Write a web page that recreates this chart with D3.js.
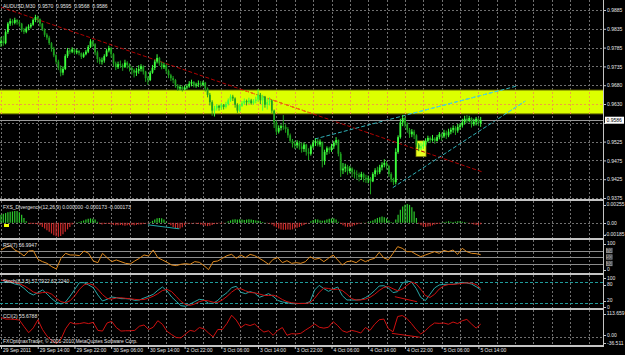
<!DOCTYPE html>
<html><head><meta charset="utf-8">
<script src="https://cdn.jsdelivr.net/npm/d3@7"></script>
<style>
html,body{margin:0;padding:0;background:#000;}
svg{display:block;}
text{font-family:"Liberation Sans",Arial,sans-serif;font-size:5px;fill:#e6e6e6;white-space:pre;}
</style></head><body>
<svg id="c" width="625" height="355"></svg>
<script>
// ---------- DATA (prices in 1/10000) ----------
const symbolTitle = "AUDUSD,M30  0.9570  0.9595  0.9568  0.9586";
const closes = [
9800,9795,9825,9848,9855,9850,9858,9852,9848,9830,
9826,9835,9840,9845,9858,9866,9860,9848,9832,9818,
9810,9795,9780,9762,9745,9728,9715,9725,9760,9775,
9772,9778,9770,9774,9768,9758,9765,9772,9785,9800,
9792,9770,9752,9745,9748,9760,9775,9782,9765,9740,
9730,9738,9735,9730,9742,9736,9728,9722,9715,9720,
9725,9732,9718,9700,9695,9715,9728,9745,9755,9740,
9730,9735,9720,9708,9700,9695,9680,9672,9676,9670,
9675,9678,9685,9690,9680,9683,9686,9682,9688,9672,
9655,9635,9612,9618,9625,9620,9628,9622,9630,9640,
9650,9645,9628,9612,9625,9632,9638,9635,9640,9632,
9638,9642,9655,9640,9650,9628,9635,9640,9612,9580,
9555,9565,9570,9568,9562,9545,9530,9522,9518,9525,
9515,9508,9520,9500,9495,9515,9525,9530,9520,9528,
9475,9500,9510,9505,9515,9525,9532,9495,9450,9455,
9460,9448,9455,9445,9440,9438,9432,9440,9430,9425,
9428,9420,9440,9450,9445,9458,9465,9470,9462,9440,
9425,9418,9500,9540,9580,9592,9575,9560,9548,9555,
9545,9520,9510,9515,9520,9530,9538,9532,9536,9530,
9540,9548,9542,9552,9545,9555,9560,9565,9558,9568,
9572,9580,9590,9585,9592,9575,9582,9590,9578,9586];
const highs = [
9812,9815,9830,9852,9862,9860,9864,9860,9858,9850,
9836,9840,9846,9850,9862,9872,9870,9862,9850,9835,
9822,9815,9798,9785,9765,9750,9735,9732,9765,9782,
9780,9784,9780,9779,9776,9770,9770,9777,9790,9806,
9804,9795,9775,9757,9756,9765,9780,9788,9785,9768,
9745,9745,9748,9740,9750,9746,9740,9732,9726,9728,
9735,9738,9735,9720,9705,9720,9736,9750,9765,9758,
9745,9742,9738,9724,9712,9706,9698,9684,9682,9680,
9680,9684,9692,9696,9692,9688,9694,9692,9693,9690,
9675,9660,9640,9625,9630,9628,9632,9630,9636,9645,
9656,9655,9648,9632,9630,9638,9645,9642,9647,9644,
9643,9650,9670,9660,9655,9652,9645,9648,9642,9615,
9585,9572,9575,9600,9575,9567,9550,9535,9530,9532,
9530,9525,9526,9522,9510,9520,9532,9537,9535,9534,
9525,9506,9515,9514,9522,9530,9540,9534,9500,9470,
9468,9465,9462,9458,9452,9450,9444,9446,9444,9438,
9436,9432,9445,9456,9460,9465,9472,9480,9475,9465,
9445,9430,9510,9545,9590,9600,9596,9580,9565,9562,
9560,9548,9524,9525,9530,9537,9544,9542,9546,9540,
9546,9554,9552,9560,9558,9563,9566,9572,9570,9576,
9578,9590,9598,9600,9598,9594,9590,9595,9592,9595];
const lows = [
9785,9788,9792,9820,9842,9843,9846,9845,9840,9825,
9820,9822,9830,9835,9842,9852,9850,9840,9828,9812,
9804,9790,9772,9757,9738,9722,9705,9708,9722,9755,
9765,9768,9764,9765,9762,9752,9755,9762,9768,9782,
9785,9762,9742,9738,9737,9742,9758,9770,9756,9732,
9722,9725,9728,9720,9728,9726,9718,9710,9702,9706,
9712,9718,9710,9690,9682,9692,9712,9722,9740,9734,
9724,9725,9712,9700,9692,9686,9674,9666,9666,9664,
9667,9670,9674,9678,9675,9674,9676,9675,9678,9664,
9648,9626,9598,9596,9612,9612,9614,9615,9618,9626,
9636,9638,9620,9606,9608,9622,9628,9626,9630,9628,
9628,9632,9636,9630,9612,9620,9615,9626,9605,9565,
9546,9550,9558,9560,9552,9538,9525,9512,9508,9510,
9506,9498,9500,9490,9478,9490,9510,9516,9515,9514,
9458,9465,9492,9495,9500,9508,9518,9488,9432,9440,
9445,9438,9442,9432,9428,9425,9420,9424,9418,9416,
9415,9385,9418,9432,9438,9440,9450,9458,9452,9432,
9418,9410,9412,9495,9536,9570,9566,9552,9538,9540,
9535,9512,9502,9505,9508,9515,9526,9524,9528,9522,
9528,9534,9530,9538,9535,9540,9548,9552,9546,9552,
9560,9566,9574,9578,9580,9566,9570,9572,9570,9568];
const firstOpen = 9795;
const lastPrice = 0.9586;

// FXS_Divergence histogram (units of 0.0001), one per bar
const divergence = [
10,11,12,13,13.5,14,14.5,14.5,13,10,6,2,
-1,-1.5,-1,-1.5,-2,
-3,-5,-7,-9,-11,-13,-15,-16.5,-17,-16,-14,-11,-8,-5,-2,
-0.5,0.5,
1,2,3,4,5,5.5,5,4,1.5,
-1,-2,-1.5,-1,-1.5,-2,-2.5,-3,-3,-2.5,-3,-3.5,-3,-3,-2.5,-3,-2.5,-2,-2,-1.5,-1,-0.5,
1,2.5,4,5.5,6,5.5,4,1.5,
-1,-3,-5,-6.5,-7.3,-7,-5.5,-3,-1,
-0.5,-1,-0.5,-1,-1.5,-2,
-3,-3.5,-4,-3.5,-2.5,-1.5,
-1,-0.5,-1,-0.5,0.5,
2,3,4,4.5,4,4.5,4,3.5,4,4.5,4,3.5,3,2.5,2,1,
0.5,-0.5,-1,
-2,-4,-5.5,-7,-8,-8.5,-8.5,-8,-8.5,-8,-7,-6,-5,-3.5,-2.5,-1.5,-0.5,
2,3.5,4.5,4,3,2.5,3,4,5,5.5,5.5,4,1.5,
-1.5,-3,-4.5,-5,-4.5,-4,-3,-2,-1,
-0.5,0.5,-0.5,
1,2,3,4.5,6,7,7.7,7,5.5,3,1,
0.5,
4,10,16,20,22,23,22,19,14,
6,
-1,-3,-4.5,-5,-4.5,-4,-3,-2,-1.5,-1,
0.5,1,1.5,2,1.5,1,1.5,2,2,1.5,1,0.5,-0.5,-1,
-2,-2.5,-3,-1.7];

// RSI(7), Stoch main/signal, CCI: evenly sampled across the bars
const rsi = [71.6,79.8,84.9,71.6,64.4,53.1,68.5,69.5,42.9,35.7,30.5,20.3,13.1,46,61.3,56.2,56.2,54.1,68.5,61.3,
37.7,32.6,61.3,48,35.7,40.8,35.7,30.5,28.5,37.7,46,56.2,53.1,71.6,48,40.8,33.6,25.4,23.4,27.5,
29.5,27.5,35.7,33.6,23.4,11.1,35.7,37.7,46,54.1,58.2,46,56.2,48,58.2,54.1,46,37.7,27.5,42.9,
48,32.6,38.7,30.5,32.6,30.5,35.7,51,42.9,46,35.7,46,56.2,40.8,25.4,35.7,37.7,32.6,42.9,35.7,
41.8,46,64.4,47,41.8,61.3,81.8,76.7,66.4,66.4,58.2,51,56.2,61.3,66.4,61.3,70.5,66.4,71.6,58.2,
76.7,66.4,61.3,60.3,57.0];
const stochMain = [86.7,82.8,80,75,72.2,62.5,50,43.2,50,57.7,46,32.6,22,17.1,23,40.3,59.6,79,79,72.2,
64.5,43.2,25.8,30.6,37.4,35.5,32.6,32.6,31.6,27.7,28.7,34.5,39.3,45.1,56.7,66.4,54.8,37.4,24.8,12.3,
10.4,17.1,23.9,30.6,28.7,19,19,27.7,40.3,50,64.5,68.3,51,47.1,52.9,49,36.4,41.3,47.1,39.3,
27.7,23,21,18.1,18.1,19,19,23.9,57.7,71.2,61.6,53.8,60.6,66.4,41.3,28.7,28.7,28.7,29.7,35.5,
44.2,55.8,69.3,70.2,63.5,50,52.9,77,83.8,80.9,62.5,36.4,26.8,45.1,63.5,72.2,74.1,74.1,74.1,77,
80,78,75,67.4,57.8];
const stochSignal = [86,85,83.2,79.3,75.7,69.9,61.6,51.9,47.7,50.3,51.3,45.4,33.5,23.9,20.7,26.8,41,59.6,72.5,76.7,
71.9,60,44.5,33.2,31.3,34.5,35.2,33.6,32.3,30.6,29.3,30.3,34.2,39.6,47,56.1,59.3,52.9,39,24.8,
15.8,13.3,17.1,23.9,27.7,26.1,22.2,21.9,29,39.3,51.6,60.9,61.3,55.5,50.3,49.7,46.1,42.2,41.6,42.6,
38,30,23.9,20.7,19.1,18.4,18.7,20.6,33.5,50.9,63.5,62.2,58.7,60.3,56.1,45.5,32.9,28.7,29,31.3,
36.5,45.2,56.4,65.1,67.7,61.2,55.5,60,71.2,80.6,75.7,59.9,41.9,36.1,45.1,60.3,69.9,73.5,74.1,75.1,
77,78.3,77.7,73.5,62.2];
const cci = [85,78,78,76.5,73.6,45,18,39,75,32,2,-16.5,-29.4,-11,35,63.6,56.5,58,62,58,
63.6,28,25,60.7,68,40.7,25,26.4,26.4,28,46.4,52,32,42,70.8,55,23.6,9.3,-3.6,-5,
12,28,23.6,40.7,35,16.4,-0.8,32,32,59,95,73.6,40.7,55,49.3,56.5,36.4,20.7,26.4,6.4,
28,40.7,6.4,13.6,12,15,29.3,42,56.5,42,38,42,66.4,49.3,26.4,19.3,28,23.6,16.4,40.7,
28,55,75,78,35,22,89.3,93.6,80.8,58,32,12,26.4,46.4,60.7,59,60.7,55,65,58,
70.8,76.5,56.5,38,55.7];

// axis labels ('' = grid line whose label is hidden behind the price tag)
const priceTicks = [0.9885,0.9834,0.9783,0.9732,0.9681,0.9630,0.9579,0.9528,0.9477,0.9426,0.9375];
const priceTickLabels = ['0.9885','0.9835','0.9785','0.9735','0.9680','0.9630','','0.9525','0.9475','0.9425','0.9375'];
const timeTickBars = [0,16,32,48,64,80,96,112,128,144,160,176,192,208];
const timeLabels = ['29 Sep 2011','29 Sep 14:00','29 Sep 22:00','30 Sep 06:00','30 Sep 14:00','2 Oct 22:00','3 Oct 06:00',
  '3 Oct 14:00','3 Oct 22:00','4 Oct 06:00','4 Oct 14:00','4 Oct 22:00','5 Oct 06:00','5 Oct 14:00'];

// drawn objects (bar index, value)
const redTrendBars = [0,209.6], redTrendPrices = [0.9893,0.9446];
const cyanUpperBars = [136.7,224.9], cyanUpperPrices = [0.9535,0.9679];
const cyanLowerBars = [170.7,228.4], cyanLowerPrices = [0.9403,0.9638];
const zoneHigh = 0.9668, zoneLow = 0.9603;
const boxBars = [180.8,185.2], boxPrices = [0.9487,0.9530];
const divLineBars = [64,77.7], divLineVals = [-2.4,-7.3];
const stoLineBars = [171.6,181.2], stoLineVals = [38.3,23.8];
const cciLineBars = [170.3,182.5], cciLineVals = [15,-2.2];
const rsiLevels = [70,50,30];
const stochLevels = [80,20];

// ---------- DRAW ----------
const svg = d3.select('#c');
const W = 625, H = 355, R = 603;
svg.append('rect').attr('width',W).attr('height',H).attr('fill','#000');

const x = d3.scaleLinear().domain([0,208]).range([1,478.4]);
const P = v => v/10000;
const panels = {
  main:{top:0,bottom:199}, div:{top:201,bottom:238}, rsi:{top:240,bottom:273},
  sto:{top:275,bottom:308}, cci:{top:310,bottom:345}
};
const yP = d3.scaleLinear().domain([0.9375,0.9885]).range([198,10]);
const yD = d3.scaleLinear().domain([-18.5,25.5]).range([238,202]);
const yR = d3.scaleLinear().domain([0,100]).range([273.25,240.75]);
const yS = d3.scaleLinear().domain([0,100]).range([309.9,275.4]);
const yC = d3.scaleLinear().domain([-36.511,113.659]).range([345,311]);
const sx = n => d3.scaleLinear().domain([0,n-1]).range([x(0),x(209)]);

const defs = svg.append('defs');
Object.entries(panels).forEach(([k,p])=>{
  defs.append('clipPath').attr('id','clip-'+k).append('rect')
    .attr('x',0).attr('y',p.top).attr('width',R).attr('height',p.bottom-p.top);
});
defs.append('clipPath').attr('id','clip-zone').append('rect')
  .attr('x',0).attr('y',yP(zoneHigh)).attr('width',R).attr('height',yP(zoneLow)-yP(zoneHigh));

const gridBars = d3.range(0,400,8).filter(b=>x(b)<R-1);
const gridCol = '#707070';

function vgrid(g,p,col){
  g.selectAll(null).data(gridBars).join('line')
    .attr('x1',d=>Math.round(x(d))+0.5).attr('x2',d=>Math.round(x(d))+0.5)
    .attr('y1',p.top).attr('y2',p.bottom)
    .attr('stroke',col).attr('stroke-dasharray','2,2');
}
function tline(g,bars,vals,ys,col,dash){
  g.append('line').attr('x1',x(bars[0])).attr('y1',ys(vals[0])).attr('x2',x(bars[1])).attr('y2',ys(vals[1]))
   .attr('stroke',col).attr('stroke-width',1).attr('stroke-dasharray',dash||null);
}

// main panel
const gm = svg.append('g').attr('clip-path','url(#clip-main)');
vgrid(gm,panels.main,gridCol);
gm.selectAll(null).data(priceTicks).join('line')
  .attr('x1',0).attr('x2',R).attr('y1',d=>Math.round(yP(d))+0.5).attr('y2',d=>Math.round(yP(d))+0.5)
  .attr('stroke',gridCol).attr('stroke-dasharray','2,2');
// zone
gm.append('rect').attr('x',0).attr('width',R)
  .attr('y',yP(zoneHigh)).attr('height',yP(zoneLow)-yP(zoneHigh))
  .attr('fill','#dcff00');
gm.append('line').attr('x1',0).attr('x2',R).attr('y1',yP(zoneHigh)).attr('y2',yP(zoneHigh)).attr('stroke','#5a5a00');
gm.append('line').attr('x1',0).attr('x2',R).attr('y1',yP(zoneLow)).attr('y2',yP(zoneLow)).attr('stroke','#5a5a00');
const gz = gm.append('g').attr('clip-path','url(#clip-zone)');
vgrid(gz,panels.main,'#f0a040');
gz.selectAll(null).data(priceTicks).join('line')
  .attr('x1',0).attr('x2',R).attr('y1',d=>Math.round(yP(d))+0.5).attr('y2',d=>Math.round(yP(d))+0.5)
  .attr('stroke','#f0a040').attr('stroke-dasharray','2,2');
// small box
gm.append('rect').attr('x',x(boxBars[0])).attr('width',x(boxBars[1])-x(boxBars[0]))
  .attr('y',yP(boxPrices[1])).attr('height',yP(boxPrices[0])-yP(boxPrices[1]))
  .attr('fill','#e8ff20').attr('stroke','#6a6a00').attr('stroke-width',0.7);
// trend lines (lighter where they cross the zone)
tline(gm,redTrendBars,redTrendPrices,yP,'#b00000','4,2');
tline(gm,cyanUpperBars,cyanUpperPrices,yP,'#30b0b8','4,2');
tline(gm,cyanLowerBars,cyanLowerPrices,yP,'#30b0b8','4,2');
const gz2 = gm.append('g').attr('clip-path','url(#clip-zone)');
tline(gz2,redTrendBars,redTrendPrices,yP,'#ff7a10','4,2');
tline(gz2,cyanUpperBars,cyanUpperPrices,yP,'#50d8e8','4,2');
tline(gz2,cyanLowerBars,cyanLowerPrices,yP,'#50d8e8','4,2');
// current price line
gm.append('line').attr('x1',0).attr('x2',R).attr('y1',Math.round(yP(lastPrice))+0.5).attr('y2',Math.round(yP(lastPrice))+0.5)
  .attr('stroke','#9a9a9a');
// candles
const bars = closes.map((c,i)=>({i, o: i===0?firstOpen:closes[i-1], c, h:highs[i], l:lows[i]}));
const gb = gm.append('g');
gb.selectAll('line.w').data(bars).join('line').attr('class','w')
  .attr('x1',d=>x(d.i)).attr('x2',d=>x(d.i)).attr('y1',d=>yP(P(d.h))).attr('y2',d=>yP(P(d.l)))
  .attr('stroke',d=>d.c>=d.o?'#3cff3c':'#1ea01e').attr('stroke-width',1);
gb.selectAll('rect.b').data(bars).join('rect').attr('class','b')
  .attr('x',d=>x(d.i)-0.9).attr('width',1.8)
  .attr('y',d=>yP(P(Math.max(d.o,d.c)))).attr('height',d=>Math.max(0.8,Math.abs(yP(P(d.o))-yP(P(d.c)))))
  .attr('fill',d=>d.c>=d.o?'#3cff3c':'#1ea01e');

// divergence panel
const gd = svg.append('g').attr('clip-path','url(#clip-div)');
vgrid(gd,panels.div,gridCol);
gd.append('line').attr('x1',0).attr('x2',R).attr('y1',Math.round(yD(0))+0.5).attr('y2',Math.round(yD(0))+0.5)
  .attr('stroke',gridCol).attr('stroke-dasharray','2,2');
gd.selectAll(null).data(divergence).join('line')
  .attr('x1',(d,i)=>x(i)).attr('x2',(d,i)=>x(i)).attr('y1',yD(0)).attr('y2',d=>yD(d))
  .attr('stroke',d=>d>=0?'#2ccc2c':'#cc2a2a').attr('stroke-width',1.2);
tline(gd,divLineBars,divLineVals,yD,'#20a8a8');
gd.append('rect').attr('x',4).attr('y',224).attr('width',5).attr('height',3).attr('fill','#f0ff00');

// rsi panel
const gr = svg.append('g').attr('clip-path','url(#clip-rsi)');
vgrid(gr,panels.rsi,gridCol);
gr.selectAll(null).data(rsiLevels).join('line')
  .attr('x1',0).attr('x2',R).attr('y1',d=>Math.round(yR(d))+0.5).attr('y2',d=>Math.round(yR(d))+0.5)
  .attr('stroke','#8c8c8c');
const sr = sx(rsi.length);
gr.append('path').datum(rsi).attr('fill','none').attr('stroke','#e08a1e').attr('stroke-width',1)
  .attr('d',d3.line().x((d,i)=>sr(i)).y(d=>yR(d)));

// stoch panel
const gs = svg.append('g').attr('clip-path','url(#clip-sto)');
vgrid(gs,panels.sto,gridCol);
gs.selectAll(null).data(stochLevels).join('line')
  .attr('x1',0).attr('x2',R).attr('y1',d=>Math.round(yS(d))+0.5).attr('y2',d=>Math.round(yS(d))+0.5)
  .attr('stroke','#1e9a9a').attr('stroke-dasharray','3,2');
const ss = sx(stochMain.length);
gs.append('path').datum(stochMain).attr('fill','none').attr('stroke','#2aa8a8').attr('stroke-width',1)
  .attr('d',d3.line().x((d,i)=>ss(i)).y(d=>yS(d)));
const ss2 = sx(stochSignal.length);
gs.append('path').datum(stochSignal).attr('fill','none').attr('stroke','#d01010').attr('stroke-width',1)
  .attr('d',d3.line().x((d,i)=>ss2(i)).y(d=>yS(d)));
tline(gs,stoLineBars,stoLineVals,yS,'#d01010');

// cci panel
const gc = svg.append('g').attr('clip-path','url(#clip-cci)');
vgrid(gc,panels.cci,gridCol);
gc.append('line').attr('x1',0).attr('x2',R).attr('y1',Math.round(yC(0))+0.5).attr('y2',Math.round(yC(0))+0.5)
  .attr('stroke',gridCol).attr('stroke-dasharray','2,2');
const sc = sx(cci.length);
gc.append('path').datum(cci).attr('fill','none').attr('stroke','#d01010').attr('stroke-width',1)
  .attr('d',d3.line().x((d,i)=>sc(i)).y(d=>yC(d)));
tline(gc,cciLineBars,cciLineVals,yC,'#d01010');

// separators / borders
const sepCol = '#c4c4c4';
[199,238,273,308,345].forEach(y=>{
  svg.append('rect').attr('x',0).attr('y',y).attr('width',R+1).attr('height',2).attr('fill',sepCol);
});
svg.append('rect').attr('x',R).attr('y',0).attr('width',1).attr('height',347).attr('fill',sepCol);

// price axis
const ax = svg.append('g').attr('transform',`translate(${R+1},0)`)
  .call(d3.axisRight(yP).tickValues(priceTicks).tickFormat((d,i)=>priceTickLabels[i]).tickSize(2).tickPadding(1));
ax.select('.domain').remove();
ax.selectAll('line').attr('stroke','#c8c8c8');
ax.selectAll('text').attr('fill','#e6e6e6').style('font-size','5px').attr('font-family',null);
ax.selectAll('text').filter(function(){return this.textContent==='';}).remove();
// current price tag
const py = yP(lastPrice);
svg.append('rect').attr('x',R+2).attr('y',py-3.5).attr('width',19).attr('height',7).attr('fill','#ffffff');
svg.append('text').attr('x',R+3.5).attr('y',py+1.8).text(lastPrice.toFixed(4)).style('fill','#000');

// sub-panel axis labels
function rlabel(y,t,p,dy){
  const yy = Math.max(p.top+3.5,Math.min(p.bottom-3.5,y)) + (dy||0);
  svg.append('line').attr('x1',R+1).attr('x2',R+3).attr('y1',Math.round(yy)+0.5).attr('y2',Math.round(yy)+0.5).attr('stroke','#c8c8c8');
  const tt = svg.append('text').attr('x',R+4).attr('y',yy+1.8).text(t);
  const w = tt.node().getComputedTextLength();
  if (R+4+w > W-0.5) tt.attr('x', W-0.5-w);
}
rlabel(yD(25.5),'0.00255',panels.div);
rlabel(yD(0),'0.00',panels.div);
rlabel(yD(-18.5),'-0.00185',panels.div);
rlabel(yR(100),'100',panels.rsi);
rlabel(yR(0),'0',panels.rsi);
rsiLevels.forEach(l=>{
  const yy = yR(l);
  svg.append('rect').attr('x',R+3).attr('y',yy-2.6).attr('width',6.5).attr('height',5.2).attr('fill','#8a8a8a');
  svg.append('text').attr('x',R+3.6).attr('y',yy+1.8).text(String(l)).style('fill','#2a2a2a');
});
rlabel(yS(100),'100',panels.sto,-0.7);
rlabel(yS(80),'80',panels.sto,2.3);
rlabel(yS(20),'20',panels.sto,-2.5);
rlabel(yS(0),'0',panels.sto,2.8);
rlabel(yC(113.659),'113.659',panels.cci);
rlabel(yC(0),'0.00',panels.cci,-1.5);
rlabel(yC(-36.511),'-36.511',panels.cci,1.3);

// time axis
const tx = svg.append('g').attr('transform','translate(0,346)')
  .call(d3.axisBottom(x).tickValues(timeTickBars).tickFormat((d,i)=>timeLabels[i]).tickSize(3).tickPadding(0));
tx.select('.domain').remove();
tx.selectAll('line').attr('stroke','#c8c8c8');
tx.selectAll('text').attr('text-anchor','start').attr('x',1.5).attr('y',2).attr('dy','0.75em')
  .attr('fill','#e6e6e6').style('font-size','5px').attr('font-family',null);

// legends
svg.append('text').attr('x',3).attr('y',7.5).text(symbolTitle);
svg.append('text').attr('x',3).attr('y',209).text('FXS_Divergence(12,26,9) 0.000000 -0.000173 -0.000173');
svg.append('text').attr('x',3).attr('y',246.8).text('RSI(7) 56.9947');
svg.append('text').attr('x',3).attr('y',282.8).text('Stoch(8,3,5) 57.7922 62.2240');
svg.append('text').attr('x',3).attr('y',317.5).text('CCI(2) 55.6788');
svg.append('text').attr('x',3).attr('y',342.5).text('FXOptimaxTrader, \u00a9 2001-2010 MetaQuotes Software Corp.');
</script>
</body></html>
